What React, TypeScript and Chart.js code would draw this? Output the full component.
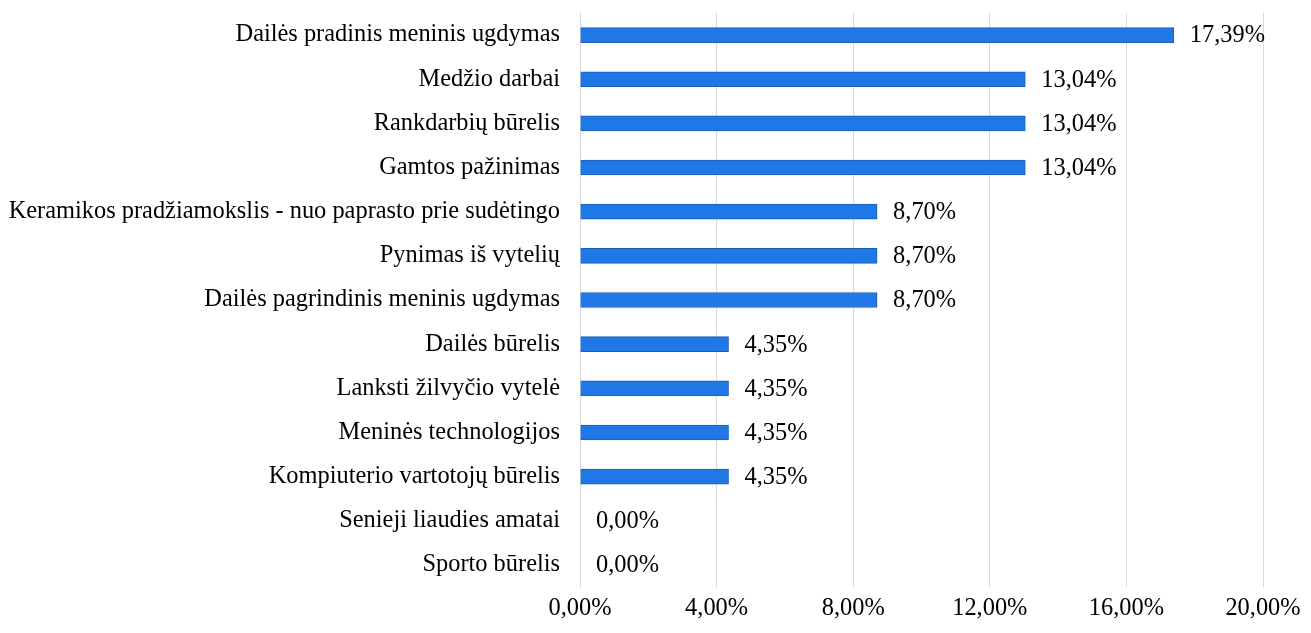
import React, { useEffect, useRef } from "react";
import { Chart, registerables } from "chart.js";

Chart.register(...registerables);

const categories = [
  "Dailės pradinis meninis ugdymas",
  "Medžio darbai",
  "Rankdarbių būrelis",
  "Gamtos pažinimas",
  "Keramikos pradžiamokslis - nuo paprasto prie sudėtingo",
  "Pynimas iš vytelių",
  "Dailės pagrindinis meninis ugdymas",
  "Dailės būrelis",
  "Lanksti žilvyčio vytelė",
  "Meninės technologijos",
  "Kompiuterio vartotojų būrelis",
  "Senieji liaudies amatai",
  "Sporto būrelis",
];

const values = [0.1739, 0.1304, 0.1304, 0.1304, 0.087, 0.087, 0.087, 0.0435, 0.0435, 0.0435, 0.0435, 0, 0];

const xMin = 0;
const xMax = 0.2;
const xStep = 0.04;

const FONT = '"Liberation Serif", "Times New Roman", serif';
const FONT_SIZE = 24.4;

const fmt = (v: number) => (v * 100).toFixed(2).replace(".", ",") + "%";

const labelPlugin = {
  id: "valueLabels",
  afterDatasetsDraw(chart: any) {
    const ctx = chart.ctx;
    const meta = chart.getDatasetMeta(0);
    ctx.save();
    ctx.font = `${FONT_SIZE}px ${FONT}`;
    ctx.fillStyle = "#000000";
    ctx.textAlign = "left";
    ctx.textBaseline = "middle";
    meta.data.forEach((bar: any, i: number) => {
      ctx.fillText(fmt(values[i]), bar.x + 16, bar.y + 1);
    });
    ctx.restore();
  },
};

export default function App() {
  const ref = useRef<HTMLCanvasElement>(null);
  useEffect(() => {
    if (!ref.current) return;
    const chart = new Chart(ref.current, {
      type: "bar",
      data: {
        labels: categories,
        datasets: [
          {
            data: values,
            backgroundColor: "#1f78e6",
            borderColor: "#1a5fb8",
            borderWidth: 1,
            barThickness: 15,
          },
        ],
      },
      options: {
        indexAxis: "y",
        animation: false,
        responsive: false,
        maintainAspectRatio: false,
        layout: { padding: { top: 13, left: 8, right: 48, bottom: 0 } },
        plugins: { legend: { display: false }, tooltip: { enabled: false } },
        scales: {
          x: {
            min: xMin,
            max: xMax,
            grid: { color: "#d9d9d9", drawTicks: false, lineWidth: 1 },
            border: { display: false },
            ticks: {
              stepSize: xStep,
              padding: 7,
              color: "#000000",
              font: { family: FONT, size: FONT_SIZE },
              callback: (v: any) => fmt(Number(v)),
            },
            afterFit: (s: any) => {
              s.height = 46;
              s.paddingLeft = 0;
              s.paddingRight = 0;
            },
          },
          y: {
            grid: { display: false, drawTicks: false },
            border: { display: false },
            ticks: {
              padding: 20,
              color: "#000000",
              font: { family: FONT, size: FONT_SIZE },
              autoSkip: false,
            },
            afterFit: (s: any) => {
              s.width = 572;
              s.paddingTop = 0;
              s.paddingBottom = 0;
            },
          },
        },
      },
      plugins: [labelPlugin],
    });
    return () => chart.destroy();
  }, []);
  return (
    <div style={{ position: "absolute", left: 0, top: 0, width: 1311, height: 633, background: "#ffffff" }}>
      <canvas ref={ref} width={1311} height={633} style={{ display: "block" }} />
    </div>
  );
}
